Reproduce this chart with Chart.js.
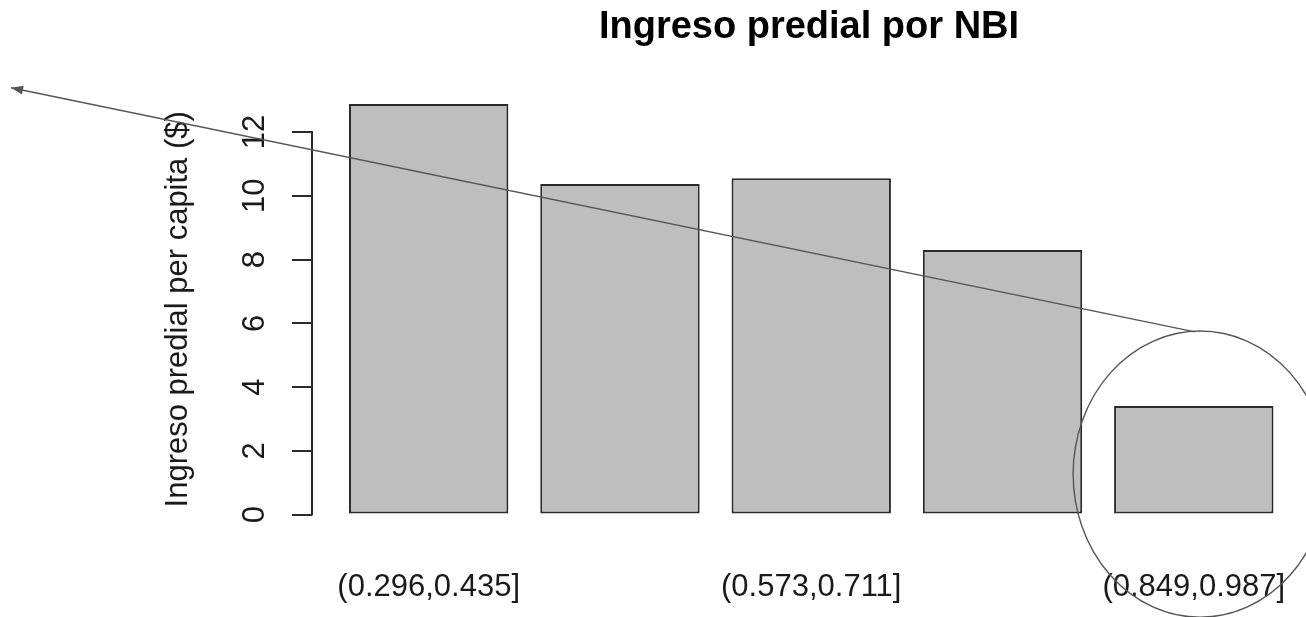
<!DOCTYPE html>
<html>
<head>
<meta charset="utf-8">
<script src="https://cdn.jsdelivr.net/npm/chart.js@4.4.1/dist/chart.umd.min.js"></script>
<style>
  html, body { margin: 0; padding: 0; background: #fff; }
  #wrap { width: 1306px; height: 617px; }
</style>
</head>
<body>
<div id="wrap"><canvas id="myChart"></canvas></div>
<script>
// NBI intervals and property income per capita
var categories = ['(0.296,0.435]', '(0.435,0.573]', '(0.573,0.711]', '(0.711,0.849]', '(0.849,0.987]'];
var ingreso = [12.88, 10.37, 10.55, 8.30, 3.41];
// bar centres on the x scale, as R's barplot places them (width 1, space 0.2)
var barX = [0.7, 1.9, 3.1, 4.3, 5.5];

// hand drawn marks over the chart, in data units
var arrowFrom = [5.507, 5.73];
var arrowTo = [-1.92, 13.39];
var ellipse = [5.54, 1.27, 0.797, 4.49]; // centre x, centre y, radius x, radius y

Chart.defaults.font.family = '"Liberation Sans", Arial, sans-serif';
Chart.defaults.color = '#1a1a1a';

// y axis line only from first to last tick, plus the annotations
var extras = {
    id: 'extras',
    afterDraw: function (chart) {
        var c = chart.ctx;
        var xs = chart.scales.x, ys = chart.scales.y;
        var t = ys.ticks;
        c.save();
        c.strokeStyle = '#2a2a2a';
        c.lineWidth = 2;
        c.beginPath();
        c.moveTo(chart.chartArea.left, ys.getPixelForValue(t[0].value) + 1);
        c.lineTo(chart.chartArea.left, ys.getPixelForValue(t[t.length - 1].value) - 1);
        c.stroke();

        c.strokeStyle = '#555';
        c.fillStyle = '#555';
        c.lineWidth = 1.4;
        var x1 = xs.getPixelForValue(arrowFrom[0]), y1 = ys.getPixelForValue(arrowFrom[1]);
        var x2 = xs.getPixelForValue(arrowTo[0]), y2 = ys.getPixelForValue(arrowTo[1]);
        c.beginPath();
        c.moveTo(x1, y1);
        c.lineTo(x2, y2);
        c.stroke();
        var a = Math.atan2(y2 - y1, x2 - x1);
        c.beginPath();
        c.moveTo(x2, y2);
        c.lineTo(x2 - 12 * Math.cos(a) + 4.5 * Math.sin(a), y2 - 12 * Math.sin(a) - 4.5 * Math.cos(a));
        c.lineTo(x2 - 12 * Math.cos(a) - 4.5 * Math.sin(a), y2 - 12 * Math.sin(a) + 4.5 * Math.cos(a));
        c.closePath();
        c.fill();

        var ex = xs.getPixelForValue(ellipse[0]), ey = ys.getPixelForValue(ellipse[1]);
        var rx = Math.abs(xs.getPixelForValue(ellipse[0] + ellipse[2]) - ex);
        var ry = Math.abs(ys.getPixelForValue(ellipse[1] + ellipse[3]) - ey);
        c.beginPath();
        c.ellipse(ex, ey, rx, ry, 0, 0, Math.PI * 2);
        c.stroke();
        c.restore();
    }
};

var ctx = document.getElementById('myChart');
var chartInstance = new Chart(ctx, {
    type: 'bar',
    data: {
        datasets: [{
            data: barX.map(function (x, i) { return { x: x, y: ingreso[i] }; }),
            backgroundColor: '#bebebe',
            borderColor: '#2a2a2a',
            borderWidth: 2,
            borderSkipped: false,
            barPercentage: 1 / 1.2,
            categoryPercentage: 1
        }]
    },
    options: {
        responsive: true,
        maintainAspectRatio: false,
        animation: false,
        layout: { padding: 0 },
        plugins: {
            legend: { display: false },
            tooltip: { enabled: false },
            title: {
                display: true,
                text: 'Ingreso predial por NBI',
                fullSize: false,
                color: '#000',
                font: { size: 38, weight: 'bold' },
                padding: { top: 5, bottom: 37 }
            }
        },
        scales: {
            x: {
                type: 'linear',
                offset: false,
                min: -0.032,
                max: 6.204,
                grid: { display: false },
                border: { display: false },
                afterBuildTicks: function (s) {
                    s.ticks = barX.map(function (v) { return { value: v }; });
                },
                afterFit: function (s) {
                    s.height = 86;
                    s.paddingLeft = 0;
                    s.paddingRight = 0;
                },
                ticks: {
                    font: { size: 31 },
                    padding: 30,
                    maxRotation: 0,
                    autoSkip: true,
                    autoSkipPadding: 80,
                    callback: function (v) { return categories[barX.indexOf(v)]; }
                }
            },
            y: {
                min: -0.515,
                max: 13.395,
                afterFit: function (s) { s.width = 312; },
                grid: { drawOnChartArea: false, tickLength: 20, color: '#2a2a2a', lineWidth: 2 },
                border: { display: false },
                ticks: {
                    stepSize: 2,
                    includeBounds: false,
                    minRotation: 90,
                    maxRotation: 90,
                    crossAlign: 'center',
                    padding: 19,
                    font: { size: 31 }
                },
                title: {
                    display: true,
                    text: 'Ingreso predial per capita ($)',
                    font: { size: 31 },
                    padding: { top: 160, bottom: 0 }
                }
            }
        }
    },
    plugins: [extras]
});
</script>
</body>
</html>
